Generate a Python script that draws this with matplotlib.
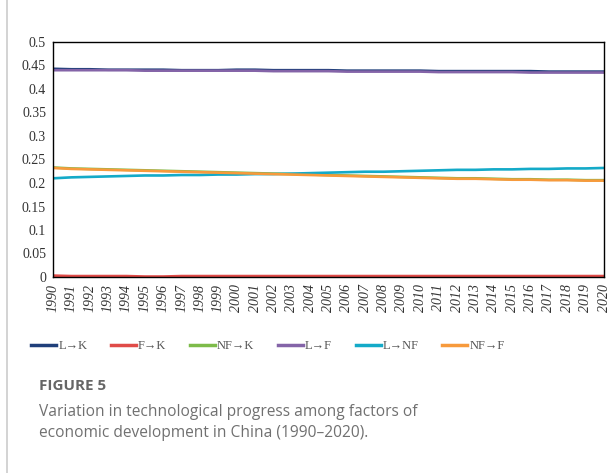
import matplotlib
matplotlib.use('Agg')
import matplotlib.pyplot as plt
from matplotlib.lines import Line2D

# 数据
years = list(range(1990, 2021))
l_k = [0.443, 0.442, 0.442, 0.441, 0.441, 0.441, 0.441, 0.440, 0.440, 0.440,
       0.441, 0.441, 0.440, 0.440, 0.440, 0.440, 0.439, 0.439, 0.439, 0.439,
       0.439, 0.438, 0.438, 0.438, 0.438, 0.438, 0.438, 0.437, 0.437, 0.437, 0.437]
f_k = [0.003, 0.002, 0.002, 0.002, 0.002, 0.001, 0.001, 0.002, 0.002, 0.002,
       0.002, 0.002, 0.002, 0.002, 0.002, 0.002, 0.002, 0.002, 0.002, 0.002,
       0.002, 0.002, 0.002, 0.002, 0.002, 0.002, 0.002, 0.002, 0.002, 0.002, 0.002]
nf_k = [0.233, 0.231, 0.230, 0.229, 0.228, 0.227, 0.226, 0.225, 0.224, 0.223,
        0.222, 0.221, 0.220, 0.219, 0.218, 0.217, 0.216, 0.215, 0.214, 0.213,
        0.212, 0.211, 0.210, 0.210, 0.209, 0.208, 0.208, 0.207, 0.207, 0.206, 0.206]
l_f = [0.440, 0.440, 0.440, 0.440, 0.440, 0.439, 0.439, 0.439, 0.439, 0.439,
       0.439, 0.439, 0.438, 0.438, 0.438, 0.438, 0.437, 0.437, 0.437, 0.437,
       0.437, 0.436, 0.436, 0.436, 0.436, 0.436, 0.435, 0.435, 0.435, 0.435, 0.435]
l_nf = [0.210, 0.212, 0.213, 0.214, 0.215, 0.216, 0.216, 0.217, 0.217, 0.218,
        0.218, 0.219, 0.219, 0.220, 0.221, 0.222, 0.223, 0.224, 0.224, 0.225,
        0.226, 0.227, 0.228, 0.228, 0.229, 0.229, 0.230, 0.230, 0.231, 0.231, 0.232]
nf_f = [0.232, 0.230, 0.229, 0.228, 0.227, 0.226, 0.225, 0.224, 0.223, 0.222,
        0.221, 0.220, 0.219, 0.218, 0.217, 0.216, 0.215, 0.214, 0.213, 0.212,
        0.211, 0.210, 0.209, 0.209, 0.208, 0.207, 0.207, 0.206, 0.206, 0.205, 0.205]

labels = ['L→K', 'F→K', 'NF→K', 'L→F', 'L→NF', 'NF→F']
series = [l_k, f_k, nf_k, l_f, l_nf, nf_f]
colors = ['#1f3f7a', '#e04b48', '#7dbb4a', '#8464a8', '#14aac8', '#f79a3c']
yticks = [0, 0.05, 0.1, 0.15, 0.2, 0.25, 0.3, 0.35, 0.4, 0.45, 0.5]

serif = ['Liberation Serif', 'DejaVu Serif']
sans = ['Open Sans', 'DejaVu Sans']

fig = plt.figure(figsize=(6.13, 4.73), dpi=100)
ax = fig.add_axes([53 / 613, 1 - 277 / 473, 551 / 613, 235 / 473])

for vals, c, lab in zip(series, colors, labels):
    ax.plot(years, vals, color=c, linewidth=1.9, label=lab, solid_capstyle='butt')

ax.set_xlim(1990, 2020)
ax.set_ylim(0, 0.5)
ax.set_xticks(years)
ax.set_xticklabels([str(y) for y in years], rotation=90, fontstyle='italic',
                   family=serif, fontsize=10, color='#333333')
ax.set_yticks(yticks)
ax.set_yticklabels([f'{t:g}' for t in yticks], family=serif, fontsize=10,
                   color='#333333')
ax.tick_params(length=0, pad=5)
for sp in ax.spines.values():
    sp.set_color('black')
    sp.set_linewidth(1.0)

# 图例
handles = [Line2D([0], [0], color=c, linewidth=2.5) for c in colors]
fig.legend(handles, labels, loc='center', bbox_to_anchor=(268 / 613, 1 - 346 / 473),
           ncol=6, frameon=False, prop={'family': serif, 'size': 9},
           handlelength=2.0, handletextpad=0.15, columnspacing=1.9,
           labelcolor='#555555')

# 左侧灰色竖线
fig.add_artist(Line2D([6.5 / 613, 6.5 / 613], [0, 1], color='#cccccc',
                      linewidth=1.2, transform=fig.transFigure))

# 图注
fig.text(39 / 613, 1 - 386 / 473, 'FIGURE 5', family=sans, fontsize=11,
         fontweight='bold', color='#666666', va='center', ha='left')
fig.text(39 / 613, 1 - 412 / 473,
         'Variation in technological progress among factors of',
         family=sans, fontsize=11.2, color='#707070', va='center', ha='left')
fig.text(39 / 613, 1 - 433 / 473,
         'economic development in China (1990\u20132020).',
         family=sans, fontsize=11.2, color='#707070', va='center', ha='left')

fig.savefig('out.png', dpi=100)
